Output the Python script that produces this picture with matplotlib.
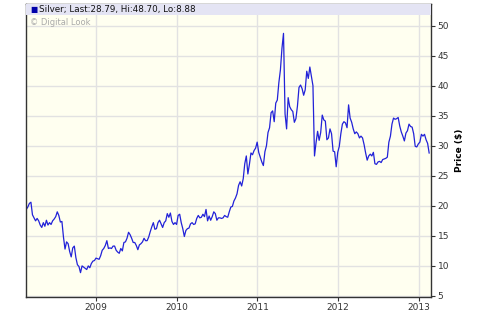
import numpy as np
import pandas as pd
import matplotlib
matplotlib.use('Agg')
import matplotlib.pyplot as plt
import matplotlib.dates as mdates

# Weekly (Friday) silver prices, Feb 2008 - Feb 2013
p2008 = [19.4, 19.8, 20.4, 20.6, 18.5, 18.0, 17.5, 17.9, 17.5, 16.8,
         16.4, 17.2, 16.6, 17.6, 16.8, 17.2, 16.9, 17.5, 17.8, 18.2,
         19.0, 18.4, 17.3, 17.4, 14.8, 12.8, 14.0, 13.7, 12.4, 11.5,
         13.0, 13.3, 11.4, 10.2, 9.9, 8.88, 10.0, 9.8, 9.6, 9.4,
         10.0, 9.7, 10.4, 10.8, 10.9]
p2009 = [11.3, 11.2, 11.1, 11.7, 12.6, 12.9, 13.4, 14.2, 12.9, 13.0,
         12.9, 13.3, 13.3, 12.6, 12.3, 12.1, 12.9, 12.5, 13.9, 14.0,
         14.6, 15.6, 15.2, 14.6, 13.9, 13.9, 13.4, 12.7, 13.5, 13.7,
         14.0, 14.6, 14.2, 14.2, 14.8, 15.7, 16.5, 17.2, 16.1, 16.2,
         17.2, 17.6, 17.0, 16.4, 17.2, 17.5, 18.7, 18.1, 18.8, 17.4,
         16.9, 17.2]
p2010 = [16.9, 18.4, 18.6, 17.2, 16.2, 14.9, 15.9, 16.2, 16.3, 17.0,
         17.2, 16.9, 17.0, 17.9, 18.4, 18.0, 18.1, 18.6, 18.2, 19.4,
         17.5, 18.3, 17.6, 18.2, 19.0, 18.7, 17.6, 18.0, 18.0, 17.9,
         18.0, 18.4, 18.2, 18.1, 19.0, 19.8, 19.9, 20.8, 21.3, 22.0,
         23.4, 24.0, 23.3, 24.5, 27.0, 28.3, 25.3, 26.9, 28.8, 28.5,
         29.2, 29.6, 30.6]
p2011 = [28.9, 28.1, 27.3, 26.7, 29.0, 30.0, 32.2, 33.0, 35.5, 35.8,
         34.0, 37.1, 37.6, 40.5, 42.6, 46.2, 48.7, 35.3, 32.8, 38.0,
         36.5, 36.0, 35.7, 33.9, 34.5, 36.6, 39.7, 40.1, 39.5, 38.4,
         39.3, 42.4, 41.2, 43.1, 41.6, 40.0, 28.3, 30.5, 32.4, 30.9,
         32.2, 35.1, 34.3, 34.1, 31.0, 31.3, 32.8, 32.0, 29.1, 29.0,
         26.5]
p2012 = [28.9, 29.9, 32.0, 33.6, 34.0, 33.8, 33.0, 36.8, 34.6, 33.9,
         32.8, 32.0, 32.3, 32.0, 31.3, 31.6, 31.3, 30.2, 28.8, 27.6,
         28.3, 28.6, 28.3, 28.9, 27.0, 26.9, 27.3, 27.4, 27.2, 27.7,
         27.8, 27.9, 28.1, 30.6, 31.6, 33.6, 34.6, 34.4, 34.5, 34.7,
         33.3, 32.3, 31.6, 30.8, 32.1, 32.5, 33.6, 33.2, 33.1, 32.0,
         29.9, 29.8]
p2013 = [30.3, 30.6, 31.9, 31.6, 31.9, 31.0, 30.4, 28.79]

prices = p2008 + p2009 + p2010 + p2011 + p2012 + p2013
dates = pd.date_range('2008-02-22', periods=len(prices), freq='W-FRI')

title = 'Silver; Last:28.79, Hi:48.70, Lo:8.88'
years = ['2009', '2010', '2011', '2012', '2013']
yticks = [5, 10, 15, 20, 25, 30, 35, 40, 45, 50]

plt.rcParams['font.family'] = ['DejaVu Sans']
fig = plt.figure(figsize=(4.8, 3.26), dpi=100)
ax = fig.add_axes([0.0552, 0.089, 0.8435, 0.899])
ax.set_facecolor('#fffff0')

ax.plot(dates, prices, color='#2222d8', lw=0.9)

ax.set_xlim(pd.Timestamp('2008-02-23'), pd.Timestamp('2013-02-25'))
ax.set_ylim(4.83, 53.6)

ax.set_xticks([pd.Timestamp(y + '-01-01') for y in years])
ax.xaxis.set_major_formatter(mdates.DateFormatter('%Y'))
ax.set_yticks(yticks)
ax.yaxis.tick_right()
ax.yaxis.set_label_position('right')
ax.tick_params(axis='both', labelsize=6.5, colors='#333333', length=3,
               width=0.8, pad=1.5)
ax.set_ylabel('Price ($)', fontsize=6.5, fontweight='bold', labelpad=4)

ax.grid(True, color='#e2e2e2', lw=1.0)
ax.set_axisbelow(True)
for s in ax.spines.values():
    s.set_color('#333333')
    s.set_linewidth(1.0)

# header band with series legend
ax.axhspan(51.75, 53.6, color='#e4e4f4', zorder=3, lw=0)
ax.text(0.01, 0.982, '\u25A0', transform=ax.transAxes, fontsize=5.5,
        color='#0000aa', va='center', ha='left', zorder=4)
ax.text(0.032, 0.981, title, transform=ax.transAxes, fontsize=6.3,
        color='#111111', va='center', ha='left', zorder=4)
ax.text(0.008, 0.935, '\u00A9 Digital Look', transform=ax.transAxes,
        fontsize=6.0, color='#aaaaaa', va='center', ha='left', zorder=4)

fig.savefig('out.png', dpi=100)
